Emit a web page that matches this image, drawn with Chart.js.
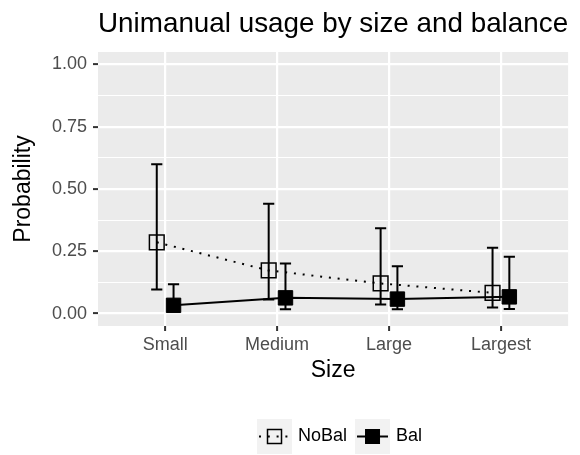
<!DOCTYPE html>
<html>
<head>
<meta charset="utf-8">
<script src="https://cdn.jsdelivr.net/npm/chart.js@4/dist/chart.umd.min.js"></script>
<style>
  html, body { margin: 0; padding: 0; background: #fff; }
  #chart { display: block; }
</style>
</head>
<body>
<canvas id="chart" width="580" height="455"></canvas>
<script>
// values
const sizes = ['Small', 'Medium', 'Large', 'Largest'];
const noBalProb  = [0.286, 0.173, 0.121, 0.083];
const noBalLower = [0.097, 0.056, 0.036, 0.024];
const noBalUpper = [0.599, 0.441, 0.342, 0.264];
const balProb  = [0.033, 0.063, 0.058, 0.067];
const balLower = [0.010, 0.017, 0.017, 0.018];
const balUpper = [0.118, 0.201, 0.190, 0.228];
const yTickLabels = [0, 0.25, 0.5, 0.75, 1];

const dodge = 0.075;     // horizontal offset of each group
const capWidth = 0.1;    // error bar cap width, in category units

Chart.defaults.font.family = "'Liberation Sans', Arial, sans-serif";

// grey panel behind the grid
const panelBg = {
  id: 'panelBg',
  beforeDraw(chart) {
    const { ctx, chartArea: a } = chart;
    ctx.save();
    ctx.fillStyle = '#EBEBEB';
    ctx.fillRect(a.left, a.top, a.right - a.left, a.bottom - a.top);
    ctx.restore();
  }
};

// vertical error bars with caps
const errorBars = {
  id: 'errorBars',
  beforeDatasetsDraw(chart) {
    const { ctx } = chart;
    const xs = chart.scales.x, ys = chart.scales.y;
    ctx.save();
    ctx.strokeStyle = '#000';
    ctx.lineWidth = 2;
    ctx.setLineDash([]);
    chart.data.datasets.forEach(ds => {
      ds.data.forEach((p, i) => {
        const px = xs.getPixelForValue(p.x);
        const half = xs.getPixelForValue(p.x + capWidth / 2) - px;
        const lo = ys.getPixelForValue(ds.errLow[i]);
        const hi = ys.getPixelForValue(ds.errHigh[i]);
        ctx.beginPath();
        ctx.moveTo(px, lo); ctx.lineTo(px, hi);
        ctx.moveTo(px - half, lo); ctx.lineTo(px + half, lo);
        ctx.moveTo(px - half, hi); ctx.lineTo(px + half, hi);
        ctx.stroke();
      });
    });
    ctx.restore();
  }
};

// ggplot-style legend keys under the plot
const keyLegend = {
  id: 'keyLegend',
  afterDraw(chart) {
    const { ctx } = chart;
    const key = 35, cy = 436.5, gap = 6, spacing = 8;
    let x = 257;
    ctx.save();
    ctx.font = "18px 'Liberation Sans', Arial, sans-serif";
    ctx.textBaseline = 'middle';
    ctx.textAlign = 'left';
    chart.data.datasets.forEach(ds => {
      ctx.fillStyle = '#F2F2F2';
      ctx.fillRect(x, cy - key / 2, key, key);
      ctx.strokeStyle = '#000';
      ctx.lineWidth = ds.borderWidth;
      ctx.setLineDash(ds.borderDash || []);
      ctx.beginPath();
      ctx.moveTo(x + 2, cy); ctx.lineTo(x + key - 2, cy);
      ctx.stroke();
      ctx.setLineDash([]);
      const s = 14;
      if (ds.pointBackgroundColor !== 'transparent') {
        ctx.fillStyle = ds.pointBackgroundColor;
        ctx.fillRect(x + key / 2 - s / 2, cy - s / 2, s, s);
      }
      ctx.lineWidth = ds.pointBorderWidth;
      ctx.strokeRect(x + key / 2 - s / 2, cy - s / 2, s, s);
      ctx.fillStyle = '#000';
      ctx.fillText(ds.label, x + key + gap, cy);
      x += key + gap + ctx.measureText(ds.label).width + spacing;
    });
    ctx.restore();
  }
};

const ctx = document.getElementById('chart').getContext('2d');
new Chart(ctx, {
  type: 'line',
  data: {
    datasets: [
      {
        label: 'NoBal',
        data: sizes.map((s, i) => ({ x: i + 1 - dodge, y: noBalProb[i] })),
        errLow: noBalLower,
        errHigh: noBalUpper,
        borderColor: '#000',
        borderWidth: 2,
        borderDash: [2, 6.8],
        pointStyle: 'rect',
        pointRadius: 10.4,
        pointBorderWidth: 1.5,
        pointBorderColor: '#000',
        pointBackgroundColor: 'transparent',
        tension: 0
      },
      {
        label: 'Bal',
        data: sizes.map((s, i) => ({ x: i + 1 + dodge, y: balProb[i] })),
        errLow: balLower,
        errHigh: balUpper,
        borderColor: '#000',
        borderWidth: 2,
        pointStyle: 'rect',
        pointRadius: 10.2,
        pointBorderWidth: 1,
        pointBorderColor: '#000',
        pointBackgroundColor: '#000',
        tension: 0
      }
    ]
  },
  options: {
    responsive: false,
    animation: false,
    devicePixelRatio: 1,
    layout: { padding: { left: 0, right: 6, top: 0, bottom: 60 } },
    plugins: {
      legend: { display: false },
      tooltip: { enabled: false },
      title: {
        display: true,
        text: 'Unimanual usage by size and balance',
        color: '#000',
        fullSize: false,
        font: { size: 28.5, weight: 'normal' },
        padding: { top: 7, bottom: 10.8 }
      }
    },
    scales: {
      x: {
        type: 'linear',
        min: 0.4,
        max: 4.6,
        afterBuildTicks: scale => { scale.ticks = sizes.map((s, i) => ({ value: i + 1 })); },
        afterFit: scale => {
          scale.height = 69;
          scale.paddingLeft = 0;
          scale.paddingRight = 0;
        },
        border: { display: false },
        grid: { color: '#FFFFFF', lineWidth: 2.2, tickColor: '#333333', tickWidth: 2, tickLength: 5 },
        ticks: {
          autoSkip: false,
          maxRotation: 0,
          padding: 3,
          color: '#4D4D4D',
          font: { size: 18 },
          callback: v => sizes[Math.round(v) - 1]
        },
        title: {
          display: true,
          text: 'Size',
          color: '#000',
          font: { size: 23 },
          padding: { top: 0, bottom: 11 }
        }
      },
      y: {
        min: -0.05,
        max: 1.05,
        afterBuildTicks: scale => {
          const t = [];
          for (let k = 0; k <= 8; k++) t.push({ value: k * 0.125 });
          scale.ticks = t;
        },
        afterFit: scale => {
          scale.width = 98;
          scale.paddingTop = 0;
          scale.paddingBottom = 0;
        },
        border: { display: false },
        grid: {
          color: '#FFFFFF',
          lineWidth: c => yTickLabels.includes(c.tick.value) ? 2.2 : 1.1,
          tickColor: c => yTickLabels.includes(c.tick.value) ? '#333333' : 'rgba(0,0,0,0)',
          tickWidth: 2,
          tickLength: 5
        },
        ticks: {
          autoSkip: false,
          padding: 6,
          color: '#4D4D4D',
          font: { size: 18 },
          callback: v => yTickLabels.includes(v) ? v.toFixed(2) : ''
        },
        title: {
          display: true,
          text: 'Probability',
          color: '#000',
          font: { size: 23 },
          padding: { top: 10, bottom: 0 }
        }
      }
    }
  },
  plugins: [panelBg, errorBars, keyLegend]
});
</script>
</body>
</html>
